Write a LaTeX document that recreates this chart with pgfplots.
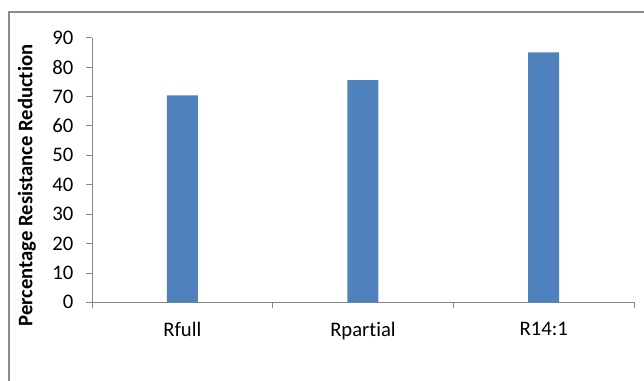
\documentclass[border=0pt]{standalone}
\usepackage{pgfplots}
\pgfplotsset{compat=1.18}
\usepackage{fontspec}
\setmainfont[Ligatures={NoCommon}]{Carlito}
\definecolor{barblue}{HTML}{4F81BD}
\definecolor{axisgray}{HTML}{868686}
\definecolor{bordergray}{HTML}{8C8C8C}
\begin{document}
\begin{tikzpicture}[x=0.75pt,y=0.75pt]
\useasboundingbox (0,0) rectangle (644,381);
\draw[bordergray, line width=0.9pt] (9,-20) -- (9,369) -- (670,369);
\begin{axis}[
  at={(69pt,59.0pt)}, anchor=south west,
  scale only axis,
  width=406.5pt, height=198.5pt,
  xmin=-0.5, xmax=2.5, ymin=0, ymax=90,
  axis lines=left,
  axis line style={draw=axisgray, line width=0.6pt, -},
  ytick={0,10,...,90},
  xtick={0,1,2},
  xticklabels={Rfull, Rpartial, R14:1},
  minor xtick={-0.5,0.5,1.5,2.5},
  major x tick style={draw=none},
  tick style={axisgray, line width=0.6pt},
  tick align=outside,
  major tick length=4.5pt,
  minor tick length=4.5pt,
  /pgf/number format/assume math mode=true,
  ticklabel style={font=\fontsize{15.5}{18}\selectfont, text=black},
  xticklabel style={yshift=-7pt},
  yticklabel style={xshift=-6pt},
  ylabel={Percentage Resistance Reduction},
  ylabel style={at={(axis description cs:-0.12,0.441)}, anchor=center, font=\bfseries\fontsize{15.5}{18}\selectfont},
]
\addplot[ybar, bar width=23.25pt, fill=barblue, draw=none] coordinates {(0,70.4) (1,75.6) (2,85.0)};
\end{axis}
\end{tikzpicture}
\end{document}
